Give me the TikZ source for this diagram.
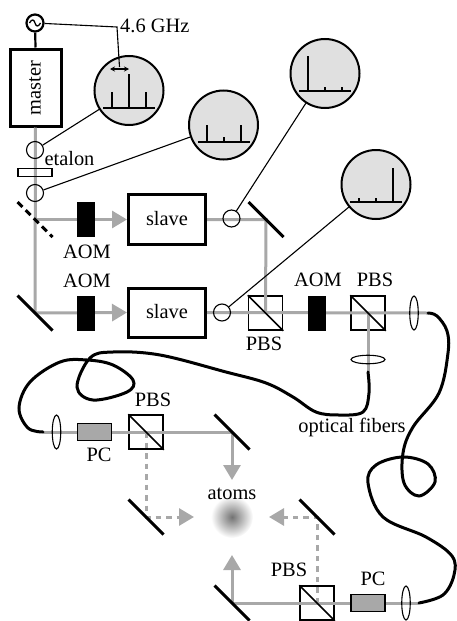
\documentclass[tikz,border=0pt]{standalone}
\usepackage{fontspec}
\setmainfont{Liberation Serif}
\usetikzlibrary{arrows.meta,calc,shapes.geometric}
\definecolor{beamgrey}{gray}{0.66}
\definecolor{specgrey}{gray}{0.88}
\tikzset{
  x=1pt,y=-1pt,
  lab/.style={inner sep=0pt,font=\fontsize{20.4}{22}\selectfont},
  beam/.style={draw=beamgrey,line width=3pt},
  beamarrow/.style={beam,-{Triangle[length=15pt,width=17pt]}},
  dbeam/.style={draw=beamgrey,line width=3pt,dash pattern=on 5.5pt off 5pt},
  dbeamarrow/.style={dbeam,-{Triangle[length=15pt,width=17pt]}},
  wire/.style={draw=black,line width=1.1pt},
  mirror/.style={draw=black,line width=3pt},
  dmirror/.style={mirror,dash pattern=on 7pt off 4.5pt},
  fiber/.style={draw=black,line width=3pt,line cap=round},
  device/.style={draw=black,line width=3pt,inner sep=0pt},
  pbs/.style={draw=black,line width=1.5pt,minimum size=34pt,inner sep=0pt},
  aom/.style={fill=black,minimum width=18pt,minimum height=35pt,inner sep=0pt},
  pc/.style={draw=black,fill=beamgrey,line width=1.5pt,minimum width=34pt,minimum height=17pt,inner sep=0pt},
  probe/.style={circle,draw=black,line width=1.1pt,minimum size=17pt,inner sep=0pt},
  lensv/.style={ellipse,draw=black,line width=1.1pt,minimum width=8.5pt,minimum height=34pt,inner sep=0pt},
  lensh/.style={ellipse,draw=black,line width=1.1pt,minimum width=34pt,minimum height=8.5pt,inner sep=0pt},
  spec/.style={circle,draw=black,fill=specgrey,line width=2pt,minimum size=69pt,inner sep=0pt},
  specline/.style={draw=black,line width=2pt},
  etalonbox/.style={draw=black,line width=1.2pt,minimum width=34pt,minimum height=8pt,inner sep=0pt},
  osc/.style={circle,draw=black,line width=2.2pt,minimum size=17pt,inner sep=0pt},
}
\newcommand{\spectrumview}[5]{%
  \node[spec] (#1) at #2 {};
  \draw[specline] ($(#1.center)+(-26,17)$) -- ($(#1.center)+(26,17)$);
  \draw[specline] ($(#1.center)+(-17,17)$) -- ++(0,-#3);
  \draw[specline] ($(#1.center)+(0,17)$) -- ++(0,-#4);
  \draw[specline] ($(#1.center)+(17,17)$) -- ++(0,-#5);
}
\newcommand{\mirrorat}[2]{%
  \draw[#1] ($(#2)+(-17.5,-17.5)$) -- ($(#2)+(17.5,17.5)$);
}
\newcommand{\pbsdiag}[1]{\draw[line width=1.5pt] (#1.north west) -- (#1.south east);}
\begin{document}
\begin{tikzpicture}
\useasboundingbox (0,0) rectangle (456,621);
% anchor points
\coordinate (bs) at (35,219.5);
\coordinate (m1) at (35,313);
\coordinate (m2) at (266,219.5);
\coordinate (m3) at (232,432);
\coordinate (m4) at (146,517);
\coordinate (m5) at (317,517);
\coordinate (m6) at (232,603);
\coordinate (fa) at (428,313);
\coordinate (fb) at (368,372);
\coordinate (fc) at (43,432);
\coordinate (fd) at (419,603);
\coordinate (wirea) at (117,27);
\coordinate (wireb) at (119.5,67);
\coordinate (tipa) at (110,69);
\coordinate (tipb) at (129,69);
\coordinate (tipc) at (232,480);
\coordinate (tipd) at (232,555);
\coordinate (tipe) at (194,517);
\coordinate (tipf) at (269,517);
% glow
\shade[inner color=black!55,outer color=white] (232,517) circle[radius=21];
% device positions (beams run below them)
\path
  (35.5,87.5) node[device,minimum width=51pt,minimum height=77pt] (master) {}
  (167,219.5) node[device,minimum width=77pt,minimum height=50pt] (slaveA) {}
  (167,312.5) node[device,minimum width=77pt,minimum height=49pt] (slaveB) {}
  (265.5,313) node[pbs] (pbsA) {}
  (368,313) node[pbs] (pbsB) {}
  (146,432) node[pbs] (pbsC) {}
  (317,603) node[pbs] (pbsD) {};
% beams
\draw[beam] (master.south) -- (m1);
\draw[beamarrow] (bs) -- (slaveA.west);
\draw[beamarrow] (m1) -- (slaveB.west);
\draw[beam] (slaveA.east) -- (m2) -- (pbsA.center);
\draw[beam] (slaveB.east) -- (fa);
\draw[beam] (pbsB.center) -- (fb);
\draw[beam] (fc) -- (m3);
\draw[beamarrow] (m3) -- (tipc);
\draw[beam] (fd) -- (m6);
\draw[beamarrow] (m6) -- (tipd);
\draw[dbeamarrow] (pbsC.center) -- (m4) -- (tipe);
\draw[dbeamarrow] (pbsD.center) -- (m5) -- (tipf);
% mirrors
\mirrorat{dmirror}{bs}
\mirrorat{mirror}{m1}
\mirrorat{mirror}{m2}
\mirrorat{mirror}{m3}
\mirrorat{mirror}{m4}
\mirrorat{mirror}{m5}
\mirrorat{mirror}{m6}
% beam splitter diagonals
\pbsdiag{pbsA}\pbsdiag{pbsB}\pbsdiag{pbsC}\pbsdiag{pbsD}
% black and grey devices
\node[aom] (aomA) at (86,219) {};
\node[aom] (aomB) at (86,313) {};
\node[aom] (aomC) at (317,313) {};
\node[pc] (pcA) at (94.5,432) {};
\node[pc] (pcB) at (368,603) {};
% lenses
\node[lensv] (lensA) at (414,313) {};
\node[lensh] (lensB) at (368,359.5) {};
\node[lensv] (lensC) at (56.5,432) {};
\node[lensv] (lensD) at (406,603) {};
% etalon and probe circles
\node[etalonbox] (etalon) at (35,172.5) {};
\node[probe] (pa) at (35,150) {};
\node[probe] (pb) at (35,193) {};
\node[probe] (pc) at (231.5,218.5) {};
\node[probe] (pd) at (222,312.5) {};
% spectra
\spectrumview{sa}{(129,90.5)}{16}{34}{16}
\spectrumview{sb}{(223.5,125)}{17}{5}{17}
\spectrumview{sc}{(325,73.5)}{35}{4}{4}
\spectrumview{sd}{(376,184.5)}{4}{4}{34}
\draw[wire] (pa) -- (sa);
\draw[wire] (pb) -- (sb);
\draw[wire] (pc) -- (sc);
\draw[wire] (pd) -- (sd);
% oscillator
\node[osc] (os) at (35,23) {};
\draw[line width=1.3pt] (29.5,23) .. controls (32,18.5) and (34,19.5) .. (35,23) .. controls (36,26.5) and (38,27.5) .. (40.5,23);
\draw[line width=2.2pt] (os) -- (master.north);
\draw[wire] (os) -- (wirea) -- (wireb);
\draw[wire,{Stealth[length=5pt,width=5pt]}-{Stealth[length=5pt,width=5pt]}] (tipa) -- (tipb);
% fibres
\draw[fiber] plot[smooth,tension=.6] coordinates {(fa) (437,316) (447,331) (448,353) (439,393) (413,427) (403,453) (404,483) (419,496) (435,482) (428,464) (403,457) (376,465) (368,483) (383,517) (426,537) (452,556) (454,575) (443,595) (fd)};
\draw[fiber] plot[smooth,tension=.6] coordinates {(fc) (28,428) (19,408) (30,382) (60,362) (87,360) (113,365) (133,380) (127,392) (93,400) (77,387) (90,358) (113,352) (160,355) (226,372) (266,383) (293,397) (316,412) (339,415) (363,412) (369,393) (fb)};
% labels
\node[lab,rotate=90] (tmaster) at (35,88) {master};
\node[lab] (tslaveA) at (167,219) {slave};
\node[lab] (tslaveB) at (167,312) {slave};
\node[lab,anchor=west] (tghz) at (120,26) {4.6 GHz};
\node[lab] (tetalon) at (69.5,159) {etalon};
\node[lab] (taomA) at (87,252) {AOM};
\node[lab] (taomB) at (87,281) {AOM};
\node[lab] (taomC) at (318,280) {AOM};
\node[lab] (tpbsA) at (264,344) {PBS};
\node[lab] (tpbsB) at (375,280) {PBS};
\node[lab] (tpbsC) at (153,400) {PBS};
\node[lab] (tpbsD) at (289,570) {PBS};
\node[lab] (tpcA) at (99,455) {PC};
\node[lab] (tpcB) at (373,579) {PC};
\node[lab] (tatoms) at (232,494) {atoms};
\node[lab] (tfib) at (352,427) {optical fibers};
\end{tikzpicture}
\end{document}
